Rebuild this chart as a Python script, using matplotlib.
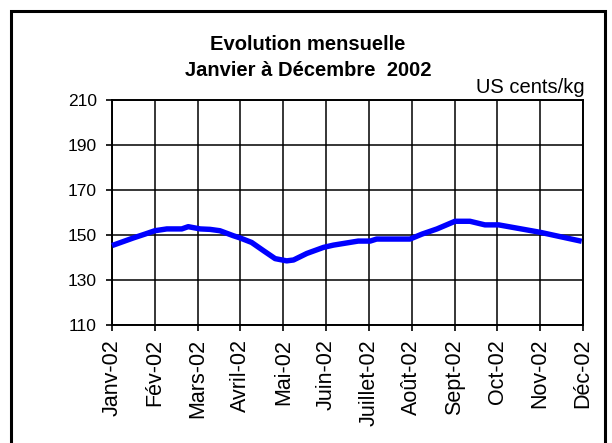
import matplotlib
matplotlib.use("Agg")
import matplotlib.pyplot as plt
from matplotlib.patches import Rectangle

months = ["Janv-02", "Fév-02", "Mars-02", "Avril-02", "Mai-02", "Juin-02",
          "Juillet-02", "Août-02", "Sept-02", "Oct-02", "Nov-02", "Déc-02"]
# position in months (0 = Janv) and price in US cents/kg
x_pos = [0.0, 0.5, 0.77, 1.0, 1.28, 1.63, 1.78, 2.06, 2.29, 2.52, 2.83, 2.99,
         3.26, 3.54, 3.81, 4.08, 4.24, 4.55, 4.94, 5.17, 5.75, 6.03, 6.18,
         6.96, 7.24, 7.59, 8.01, 8.36, 8.71, 9.03, 10.0, 10.97]
prices = [145.3, 148.7, 150.4, 151.9, 152.7, 152.7, 153.7, 152.7, 152.5, 151.9,
          149.7, 148.7, 146.7, 143.0, 139.5, 138.5, 138.9, 141.8, 144.5, 145.5,
          147.3, 147.3, 148.2, 148.2, 150.4, 152.7, 156.1, 156.1, 154.5, 154.5,
          151.2, 147.2]
y_ticks = [110, 130, 150, 170, 190, 210]

plt.rcParams['font.family'] = ['Liberation Sans', 'DejaVu Sans']

fig = plt.figure(figsize=(6.12, 4.43), dpi=100)
W, H = 612, 443
ax = fig.add_axes([112 / W, 1 - 325 / H, (583 - 112) / W, (325 - 100) / H])

ax.plot(x_pos, prices, color='#0000FF', lw=3.9, solid_joinstyle='round',
        solid_capstyle='butt', zorder=3, clip_on=False)

ax.set_xlim(0, 11)
ax.set_ylim(110, 210)
ax.set_xticks(range(len(months)))
ax.set_xticklabels(months, rotation=90, fontsize=15.5)
ax.set_yticks(y_ticks)
ax.set_yticklabels([str(v) for v in y_ticks], fontsize=12.5)
ax.grid(True, color='black', lw=1.1)
ax.set_axisbelow(True)
for s in ax.spines.values():
    s.set_color('black')
    s.set_linewidth(1.4)
ax.tick_params(axis='both', direction='out', length=4, width=1.2, color='black')
ax.tick_params(axis='x', pad=6)
ax.tick_params(axis='y', pad=7)

fig.text(308 / W, 1 - 44 / H, "Evolution mensuelle", ha='center', va='center',
         fontsize=14.5, fontweight='bold')
fig.text(308 / W, 1 - 71 / H, "Janvier à Décembre  2002", ha='center', va='center',
         fontsize=14.5, fontweight='bold')
fig.text(585 / W, 1 - 88 / H, "US cents/kg", ha='right', va='center', fontsize=14.5)

fig.patches.append(Rectangle((11 / W, -0.1), (605 - 11) / W, 1 - 11 / H + 0.1,
                             transform=fig.transFigure, fill=False,
                             edgecolor='black', lw=2.2))

fig.savefig("out.png", dpi=100)
